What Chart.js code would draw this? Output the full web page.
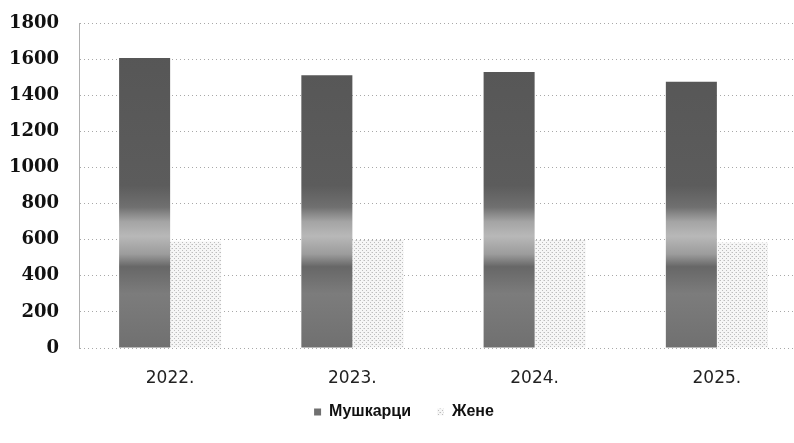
<!DOCTYPE html>
<html>
<head>
<meta charset="utf-8">
<script src="https://cdn.jsdelivr.net/npm/chart.js@4.4.1/dist/chart.umd.min.js"></script>
<style>
    html, body { margin: 0; padding: 0; background: #fff; overflow: hidden; }
    #wrap { position: relative; width: 794px; height: 443px; overflow: hidden; }
    #chart { position: absolute; left: 0; top: 0; }
</style>
</head>
<body>
<div id="wrap">
    <canvas id="chart" width="862" height="443"></canvas>
</div>
<script>
// Chart data
const years = ['2022.', '2023.', '2024.', '2025.'];
const men = [1606, 1511, 1529, 1474];
const women = [590, 598, 598, 584];
const seriesNames = ['Мушкарци', 'Жене'];
const yMax = 1800;
const yStep = 200;

// light dotted texture for the second series
function dotPattern() {
    const c = document.createElement('canvas');
    c.width = 4; c.height = 4;
    const g = c.getContext('2d');
    g.fillStyle = '#f6f6f6';
    g.fillRect(0, 0, 4, 4);
    g.fillStyle = '#bdbdbd';
    g.fillRect(0, 0, 1, 1);
    g.fillRect(2, 2, 1, 1);
    g.fillStyle = '#dcdcdc';
    g.fillRect(3, 0, 1, 1);
    return g.createPattern(c, 'repeat');
}

// dark fill with the lighter band the scan shows around 600
function menFill(context) {
    const chart = context.chart;
    const area = chart.chartArea;
    if (!area) return '#666';
    const y = chart.scales.y;
    const grad = chart.ctx.createLinearGradient(0, y.getPixelForValue(yMax), 0, y.getPixelForValue(0));
    const stop = v => 1 - v / yMax;
    grad.addColorStop(stop(1800), '#555555');
    grad.addColorStop(stop(900), '#5c5c5c');
    grad.addColorStop(stop(780), '#707070');
    grad.addColorStop(stop(700), '#a4a4a4');
    grad.addColorStop(stop(620), '#b8b8b8');
    grad.addColorStop(stop(520), '#9c9c9c');
    grad.addColorStop(stop(450), '#676767');
    grad.addColorStop(stop(300), '#7c7c7c');
    grad.addColorStop(stop(0), '#707070');
    return grad;
}

const ctx = document.getElementById('chart');
new Chart(ctx, {
    type: 'bar',
    data: {
        labels: years,
        datasets: [{
            label: seriesNames[0],
            data: men,
            backgroundColor: menFill,
            borderWidth: 0
        }, {
            label: seriesNames[1],
            data: women,
            backgroundColor: dotPattern(),
            borderWidth: 0
        }]
    },
    options: {
        responsive: false,
        animation: false,
        layout: { padding: { top: 23, bottom: 13, left: 0, right: 54 } },
        datasets: {
            bar: { categoryPercentage: 0.56, barPercentage: 1.0 }
        },
        plugins: {
            legend: {
                position: 'bottom',
                labels: {
                    boxWidth: 7,
                    boxHeight: 7,
                    padding: 10,
                    color: '#111',
                    font: { family: 'Liberation Sans', size: 16, weight: 'bold' },
                    // wider gap between the two entries, like the original
                    generateLabels: function (chart) {
                        const items = Chart.defaults.plugins.legend.labels.generateLabels(chart);
                        items[0].text = items[0].text + '\u2002\u2002';
                        return items;
                    }
                }
            },
            tooltip: { enabled: false }
        },
        scales: {
            x: {
                grid: { display: false, drawTicks: false },
                border: { display: false },
                ticks: {
                    color: '#222',
                    padding: 20,
                    font: { family: 'DejaVu Sans', size: 17 }
                },
                afterFit: function (scale) { scale.height = 46; }
            },
            y: {
                min: 0,
                max: yMax,
                ticks: {
                    stepSize: yStep,
                    color: '#111',
                    padding: 20,
                    font: { family: 'DejaVu Serif', size: 18, weight: 'bold' },
                    callback: function (value) { return String(value); }
                },
                grid: {
                    color: '#a8a8a8',
                    lineWidth: 1,
                    drawTicks: false
                },
                border: { display: true, color: '#b0b0b0', dash: [1, 3] },
                afterFit: function (scale) {
                    scale.width = 79;
                    scale.paddingTop = 0;
                    scale.paddingBottom = 0;
                }
            }
        }
    },
    plugins: [{
        id: 'dottedGrid',
        beforeDraw: function (chart) {
            chart.options.scales.y.grid.borderDash = [2, 3];
        }
    }]
});
</script>
</body>
</html>
